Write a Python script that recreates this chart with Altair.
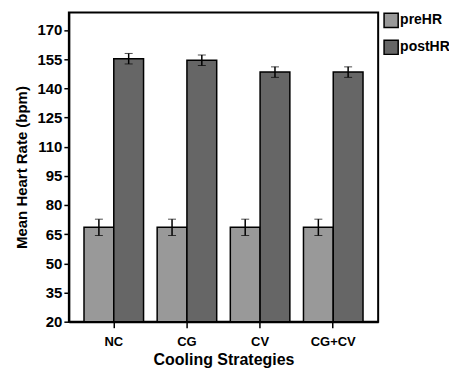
import altair as alt
import pandas as pd

strategies = ["NC", "CG", "CV", "CG+CV"]
series = ["preHR", "postHR"]
pre_mean = [68.5, 68.5, 68.5, 68.5]
pre_err = [4.2, 4.2, 4.2, 4.2]
post_mean = [155.2, 154.4, 148.3, 148.3]
post_err = [2.7, 2.7, 2.7, 2.7]
colors = ["#999999", "#666666"]

rows = []
for i, s in enumerate(strategies):
    rows.append({"strategy": s, "series": "preHR", "mean": pre_mean[i],
                 "lo": pre_mean[i] - pre_err[i], "hi": pre_mean[i] + pre_err[i]})
    rows.append({"strategy": s, "series": "postHR", "mean": post_mean[i],
                 "lo": post_mean[i] - post_err[i], "hi": post_mean[i] + post_err[i]})
df = pd.DataFrame(rows)

FONT = "Liberation Sans"

xaxis = alt.Axis(labelAngle=0, labelFontSize=13, labelFontWeight="bold",
                 labelColor="black", labelFont=FONT, labelPadding=8,
                 titleFontSize=16, titleFontWeight="bold", titleFont=FONT,
                 titleColor="black", titlePadding=3,
                 domain=True, domainColor="black", domainWidth=2,
                 ticks=True, tickColor="black", tickSize=6, tickWidth=1.5,
                 tickBand="center")
yaxis = alt.Axis(values=[20, 35, 50, 65, 80, 95, 110, 125, 140, 155, 170],
                 grid=False, labelFontSize=15, labelFontWeight="bold",
                 labelColor="black", labelFont=FONT, labelPadding=2,
                 titleFontSize=15, titleFontWeight="bold", titleFont=FONT,
                 titleColor="black", titlePadding=7,
                 domain=True, domainColor="black", domainWidth=2,
                 ticks=True, tickColor="black", tickSize=5, tickWidth=1.5)

xscale = alt.Scale(paddingInner=0.186, paddingOuter=0.207)
yscale = alt.Scale(domain=[20, 179], nice=False, zero=False)
xoff = alt.XOffset("series:N", sort=series)

bars = alt.Chart(df).mark_bar(stroke="black", strokeWidth=1.5).encode(
    x=alt.X("strategy:N", sort=strategies, title="Cooling Strategies", scale=xscale, axis=xaxis),
    xOffset=xoff,
    y=alt.Y("mean:Q", scale=yscale, title="Mean Heart Rate (bpm)", axis=yaxis),
    y2=alt.datum(20),
    color=alt.Color("series:N", sort=series,
                    scale=alt.Scale(domain=series, range=colors),
                    legend=alt.Legend(title=None, orient="right", offset=5, padding=0,
                                      symbolType="square", symbolSize=200,
                                      symbolStrokeColor="black", symbolStrokeWidth=1.5,
                                      labelFontSize=14, labelFontWeight="bold",
                                      labelFont=FONT, labelColor="black",
                                      labelOffset=1, rowPadding=5)),
)

err = alt.Chart(df).mark_errorbar(ticks=alt.MarkConfig(size=8, color="black", strokeWidth=1.5),
                                   rule=alt.MarkConfig(color="black", strokeWidth=1.5)).encode(
    x=alt.X("strategy:N", sort=strategies, title="Cooling Strategies", scale=xscale, axis=xaxis),
    xOffset=xoff,
    y=alt.Y("lo:Q", scale=yscale, title="Mean Heart Rate (bpm)", axis=yaxis),
    y2="hi:Q",
)

chart = alt.layer(bars, err).properties(
    width=310, height=310,
    autosize=alt.AutoSizeParams(type="none"),
    padding={"left": 61, "top": 4, "right": 71, "bottom": 48},
).configure_view(stroke="black", strokeWidth=2)

chart.save("out.html", embed_options={"renderer": "svg", "actions": False})
